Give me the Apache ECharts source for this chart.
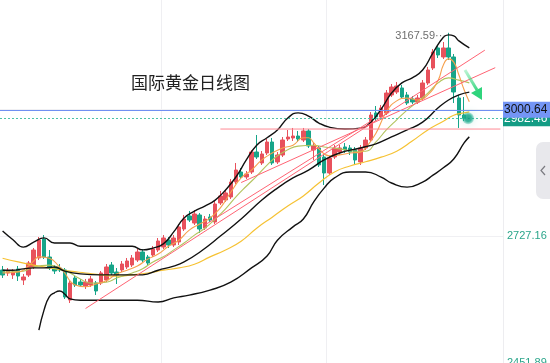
<!DOCTYPE html>
<html><head><meta charset="utf-8">
<script src="https://cdn.jsdelivr.net/npm/echarts@6/dist/echarts.min.js"></script>
<style>html,body{margin:0;padding:0;background:#fff}#c{width:550px;height:363px}</style>
</head><body><div id="c"></div>
<script>
const categoryCount = 97;
const categories = Array.from({length: categoryCount}, (_, i) => 'D' + (i + 1));

const opens = [2653.5,2647.0,2642.6,2655.6,2631.8,2642.6,2660.0,2679.5,2720.7,2681.6,
2657.8,2657.8,2653.5,2588.4,2636.1,2627.5,2618.8,2621.0,2625.3,2625.3,
2631.8,2664.3,2649.1,2653.5,2660.0,2664.3,2675.1,2692.5,2681.6,2686.0,
2696.8,2703.3,2718.5,2707.7,2714.2,2742.3,2770.5,2755.3,2772.7,2744.5,
2768.4,2757.5,2798.7,2805.2,2811.7,2844.2,2865.9,2855.1,2865.9,2909.2,
2885.4,2907.1,2930.9,2887.6,2902.7,2937.4,2939.6,2943.9,2935.2,2954.8,
2913.6,2917.9,2898.4,2863.7,2898.4,2909.2,2920.1,2917.9,2913.6,2887.6,
2917.9,2935.2,2993.8,2985.1,2993.8,3032.8,3039.3,3048.0,3032.8,3024.1,
3017.6,3026.3,3058.8,3091.3,3134.7,3115.2,3134.7,3115.2,3026.3,2989.4];
const closes = [2642.6,2651.3,2649.1,2640.5,2638.3,2668.6,2696.8,2718.5,2681.6,2657.8,
2651.3,2653.5,2595.0,2625.3,2621.0,2621.0,2627.5,2634.0,2608.0,2647.0,
2660.0,2647.0,2642.6,2666.5,2673.0,2679.5,2692.5,2675.1,2668.6,2699.0,
2716.3,2722.8,2707.7,2722.8,2746.7,2764.0,2761.8,2774.9,2742.3,2764.0,
2761.8,2796.5,2813.9,2820.4,2844.2,2870.2,2855.1,2861.6,2909.2,2898.4,
2904.9,2930.9,2885.4,2902.7,2935.2,2941.7,2943.9,2937.4,2954.8,2922.3,
2922.3,2881.1,2863.7,2896.2,2917.9,2917.9,2913.6,2909.2,2891.9,2917.9,
2935.2,2989.4,2985.1,3004.6,3037.1,3050.1,3052.3,3028.4,3015.4,3017.6,
3026.3,3058.8,3087.0,3126.0,3119.5,3134.7,3115.2,3039.3,2989.4,2982.46];
const lows = [2636.2,2640.5,2634.0,2629.6,2621.0,2638.3,2655.6,2675.1,2677.3,2653.5,
2644.8,2649.1,2590.6,2581.9,2616.6,2616.6,2612.3,2616.6,2599.3,2621.0,
2627.5,2642.6,2623.1,2649.1,2655.6,2660.0,2670.8,2670.8,2662.2,2681.6,
2692.5,2699.0,2701.2,2703.3,2707.7,2738.0,2757.5,2751.0,2733.7,2740.2,
2757.5,2753.2,2794.4,2800.9,2807.4,2839.9,2850.7,2850.7,2861.6,2894.1,
2881.1,2902.7,2881.1,2883.2,2898.4,2933.1,2933.1,2930.9,2930.9,2917.9,
2891.9,2876.7,2837.7,2859.4,2894.1,2902.7,2907.1,2902.7,2881.1,2881.1,
2913.6,2930.9,2976.4,2980.8,2989.4,3028.4,3035.0,3024.1,3011.1,3013.3,
3013.3,3021.9,3054.5,3087.0,3113.0,3110.8,3108.6,3015.4,2961.3,2976.4];
const highs = [2662.2,2657.8,2655.6,2662.2,2644.8,2673.0,2701.2,2725.0,2729.3,2696.8,
2664.3,2666.5,2657.8,2629.6,2640.5,2634.0,2634.0,2640.5,2629.6,2651.3,
2666.5,2670.8,2657.8,2673.0,2679.5,2686.0,2699.0,2699.0,2686.0,2705.5,
2722.8,2729.3,2725.0,2729.3,2753.2,2772.7,2781.4,2783.5,2777.0,2770.5,
2774.9,2803.0,2824.7,2826.9,2850.7,2885.4,2874.6,2868.1,2913.6,2946.1,
2911.4,2937.4,2939.6,2909.2,2941.7,2956.9,2961.3,2954.8,2961.3,2959.1,
2928.7,2922.3,2902.7,2900.6,2924.4,2924.4,2928.7,2924.4,2920.1,2924.4,
2941.7,2995.9,3008.9,3011.1,3043.6,3056.6,3061.0,3054.5,3039.3,3030.6,
3032.8,3065.3,3093.5,3132.5,3141.2,3147.7,3167.59,3121.7,3032.8,3028.4];

// Bollinger bands [candle index, price]
const upperBand = [[0,2738],[2,2719],[4,2703],[6,2714],[8,2723],[10,2712],[13,2712],[15,2705],[20,2705],[25,2705],[27,2697],[29,2701],[31,2710],[33,2736],[35,2766],[37,2781],[39,2792],[41,2805],[43,2827],[45,2855],[47,2892],[49,2924],[51,2940],[53,2957],[55,2983],[57,2994],[59,2987],[61,2972],[63,2963],[66,2959],[69,2961],[71,2974],[73,3002],[75,3037],[77,3059],[79,3070],[81,3087],[83,3124],[85,3158],[86,3163],[87,3161],[88,3150],[90,3135]];
const midBand = [[0,2653],[2,2653],[4,2656],[6,2658],[8,2658],[10,2660],[12,2651],[15,2645],[19,2643],[24,2643],[27,2643],[30,2653],[33,2662],[35,2671],[38,2692],[42,2727],[46,2764],[50,2805],[53,2831],[56,2853],[59,2870],[62,2892],[65,2907],[69,2918],[72,2927],[75,2942],[78,2957],[81,2974],[84,3005],[86,3022],[88,3033],[90,3039]];
const lowerBand = [[7,2523],[8,2567],[9,2595],[10,2604],[11,2608],[12,2601],[13,2591],[15,2588],[20,2588],[26,2588],[30,2584],[33,2593],[36,2599],[40,2610],[44,2627],[48,2658],[51,2684],[53,2718],[56,2747],[58,2764],[60,2801],[62,2831],[64,2853],[67,2866],[70,2866],[73,2855],[75,2842],[78,2833],[81,2844],[83,2859],[85,2875],[87,2894],[89,2929],[90,2942]];
// Moving averages [candle index, price]
const ma5 = [[0,2647],[3,2649],[5,2662],[6,2673],[7,2682],[9,2679],[11,2660],[12,2647],[13,2630],[14,2621],[16,2617],[18,2623],[20,2630],[22,2645],[24,2653],[26,2662],[28,2677],[30,2688],[32,2705],[34,2718],[36,2740],[38,2753],[40,2766],[42,2788],[44,2822],[46,2853],[48,2870],[50,2892],[52,2907],[54,2918],[56,2924],[58,2940],[59,2940],[60,2929],[61,2916],[63,2901],[65,2903],[67,2907],[69,2909],[70,2918],[72,2950],[74,2996],[76,3020],[78,3026],[80,3022],[82,3033],[84,3065],[85,3098],[86,3111],[87,3104],[88,3076],[89,3044],[90,3018]];
const ma10 = [[0,2649],[4,2651],[6,2660],[9,2664],[11,2658],[13,2647],[15,2634],[17,2625],[20,2627],[22,2636],[25,2647],[27,2656],[29,2671],[31,2682],[33,2697],[35,2712],[37,2729],[39,2744],[41,2764],[43,2786],[45,2812],[47,2835],[49,2857],[51,2881],[53,2901],[55,2914],[57,2922],[60,2924],[62,2920],[65,2916],[68,2911],[70,2911],[72,2931],[74,2957],[76,2979],[78,3000],[80,3018],[82,3037],[84,3059],[86,3070],[88,3065],[90,3059]];
const ma30 = [[0,2679],[3,2671],[6,2664],[9,2658],[13,2651],[16,2647],[19,2643],[22,2640],[25,2643],[28,2647],[31,2653],[34,2658],[37,2666],[40,2682],[43,2697],[46,2716],[49,2744],[52,2768],[55,2792],[58,2814],[61,2842],[64,2866],[67,2879],[70,2888],[73,2898],[76,2911],[79,2933],[82,2957],[85,2976],[87,2989],[89,2994],[90,2996]];
// Trend lines [candle index, price]
const trendA = [[16,2570],[93,3130]];
const trendB = [[46,2843],[95,3092]];
const trendC = [[39,2751],[71,2976]];
const supportLine = [[42,2959],[96,2959]];

const lastPrice = 2982.46;
const refPrice = 3000.64;
const peakIndex = 86;
const peakPrice = 3167.59;
const yTickLabels = [2451.89, 2727.16];

const candleData = opens.map((o, i) => [o, closes[i], lows[i], highs[i]]);
const UP = '#e8515c', DOWN = '#17a589';

const chart = echarts.init(document.getElementById('c'), null, {renderer: 'canvas'});
const lineS = (name, data, color, width, z) => ({
  type: 'line', name, data, smooth: true, symbol: 'none', z: z || 3,
  lineStyle: {color, width}, silent: true
});
const trendS = (name, data, color) => ({
  type: 'line', name, data, smooth: false, symbol: 'none', z: 4,
  lineStyle: {color, width: 1}, silent: true
});

chart.setOption({
  animation: false,
  backgroundColor: '#ffffff',
  title: {
    text: '国际黄金日线图', left: 126, top: 69,
    textStyle: {fontFamily: 'Noto Sans CJK SC', fontSize: 17, fontWeight: 'normal', color: '#222'}
  },
  grid: {left: 0, right: 47, top: -18, height: 381, containLabel: false, outerBoundsMode: 'none'},
  xAxis: {
    type: 'category', data: categories, boundaryGap: true,
    axisLine: {show: false}, axisTick: {show: false}, axisLabel: {show: false},
    splitLine: {show: true, interval: (i) => i === 31 || i === 63, lineStyle: {color: '#efeff2', width: 1}}
  },
  yAxis: {
    type: 'value', position: 'right', scale: true,
    min: 2451.89, max: 3277.70, interval: 275.27,
    axisLine: {show: true, lineStyle: {color: '#ededf0'}},
    axisTick: {show: false},
    splitLine: {show: true, lineStyle: {color: '#f0f0f3'}},
    axisLabel: {
      margin: 4, color: '#2aa58a', fontSize: 11, fontFamily: 'Liberation Sans',
      formatter: (v) => {
        const t = yTickLabels.find(x => Math.abs(x - v) < 0.05);
        return t ? t.toFixed(2) : '';
      }
    }
  },
  series: [
    {
      type: 'candlestick', name: 'K', data: candleData, z: 2, barWidth: 4, silent: true,
      itemStyle: {color: UP, color0: DOWN, borderColor: UP, borderColor0: DOWN, borderWidth: 1},
      markPoint: {
        silent: true, symbol: 'circle', symbolSize: 1,
        itemStyle: {color: 'rgba(0,0,0,0)'},
        data: [{coord: [peakIndex, peakPrice], value: peakPrice}],
        label: {
          show: true, position: 'left', distance: 2, offset: [0, 3],
          formatter: peakPrice.toFixed(2) + '···', color: '#6f6f6f', fontSize: 11, fontFamily: 'Liberation Sans'
        }
      }
    },
    lineS('MA30', ma30, '#f6c233', 1.2),
    lineS('MA10', ma10, '#b3c45e', 1.1),
    lineS('MA5', ma5, '#f6a04c', 1.1),
    lineS('BOLL-UP', upperBand, '#111111', 1.4),
    lineS('BOLL-MID', midBand, '#111111', 1.4),
    lineS('BOLL-LOW', lowerBand, '#111111', 1.4),
    trendS('TA', trendA, '#ff6474'),
    trendS('TB', trendB, '#ff6474'),
    trendS('TC', trendC, '#ff6474'),
    trendS('Support', supportLine, '#ff8a94'),
    {
      type: 'line', name: 'last', data: [], z: 5, silent: true,
      markLine: {
        silent: true, symbol: ['none', 'none'], animation: false,
        lineStyle: {color: '#4cc3a8', width: 1, type: [2, 2]},
        label: {
          show: true, position: 'end', distance: 0, formatter: lastPrice.toFixed(2),
          color: '#ffffff', backgroundColor: '#139c84', padding: [2, 3, 2, 1], fontSize: 12, fontFamily: 'Liberation Sans'
        },
        data: [{yAxis: lastPrice}]
      }
    },
    {
      type: 'line', name: 'ref', data: [], z: 6, silent: true,
      markLine: {
        silent: true, symbol: ['none', 'none'], animation: false,
        lineStyle: {color: '#7090f2', width: 1, type: 'solid'},
        label: {
          show: true, position: 'end', distance: 0, formatter: refPrice.toFixed(2),
          color: '#111111', backgroundColor: '#7495f5', padding: [2, 3, 2, 1], fontSize: 12, fontFamily: 'Liberation Sans'
        },
        data: [{yAxis: refPrice}]
      }
    },
    {
      type: 'scatter', name: 'now', data: [[89, lastPrice]], z: 7, silent: true,
      symbolSize: 12, symbolOffset: [4, 0],
      itemStyle: {
        color: {type: 'radial', x: 0.5, y: 0.5, r: 0.5, colorStops: [
          {offset: 0, color: '#0c977b'}, {offset: 0.55, color: '#1aa98c'}, {offset: 1, color: 'rgba(40,180,150,0.3)'}]},
        shadowBlur: 10, shadowColor: 'rgba(20,170,140,0.75)'
      }
    }
  ],
  graphic: [
    {
      type: 'line', silent: true, z: 100,
      shape: {x1: 465, y1: 70, x2: 477, y2: 90},
      style: {stroke: {type: 'linear', x: 0, y: 0, x2: 0, y2: 1, colorStops: [{offset: 0, color: 'rgba(80,225,140,0.3)'}, {offset: 1, color: '#2fd47c'}]}, lineWidth: 3}
    },
    {
      type: 'polygon', silent: true, z: 100,
      shape: {points: [[482, 100], [482, 87], [471, 93]]},
      style: {fill: '#2fd47c'}
    },
    {
      type: 'rect', silent: true, z: 100,
      shape: {x: 536, y: 142, width: 14, height: 57, r: [7, 0, 0, 7]},
      style: {fill: '#e8e8ec'}
    },
    {
      type: 'polyline', silent: true, z: 101,
      shape: {points: [[545, 166], [541, 170.5], [545, 175]]},
      style: {stroke: '#7a7a80', lineWidth: 1.2, fill: null}
    }
  ]
});
</script></body></html>
